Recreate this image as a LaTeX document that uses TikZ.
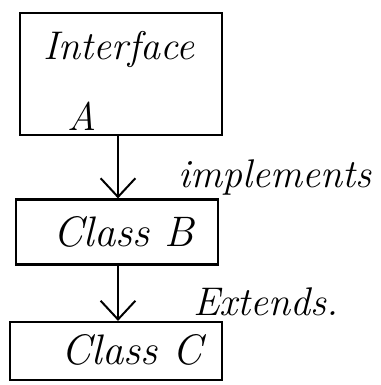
\documentclass[tikz,border=0pt]{standalone}
\usetikzlibrary{arrows.meta}
\begin{document}
\begin{tikzpicture}[x=0.75pt,y=-0.75pt,
  box/.style={draw,line width=1.6pt,minimum width=#1,inner sep=0pt},
  lbl/.style={font=\fontsize{30}{34}\selectfont\itshape,inner sep=0pt},
  conn/.style={line width=1.5pt,-{Straight Barb[length=14pt,width=26pt,line width=1.5pt]}}]
\useasboundingbox (0,0) rectangle (381,385);
\node[box=151.5pt,minimum height=91.5pt] (b1) at (121,74) {};
\node[box=151.5pt,minimum height=48.75pt] (b2) at (117,232) {};
\node[box=159pt,minimum height=43.5pt] (b3) at (116,351) {};
\node[lbl] (t1) at (119,50) {Interface};
\node[lbl,anchor=base] (t1a) at (82,130) {A};
\node[lbl,font=\fontsize{32}{36}\selectfont\itshape] (t2) at (124,232) {Class B};
\node[lbl,font=\fontsize{32}{36}\selectfont\itshape] (t3) at (132,350) {Class C};
\draw[conn] ([xshift=-2.25pt]b1.south) -- ([xshift=-2.25pt]b1.south |- b2.north);
\draw[conn] ([xshift=0.75pt]b2.south) -- ([xshift=0.75pt]b2.south |- b3.north);
\node[lbl] (l1) at (275,177) {implements};
\node[lbl] (l2) at (266,302) {Extends.};
\end{tikzpicture}
\end{document}
